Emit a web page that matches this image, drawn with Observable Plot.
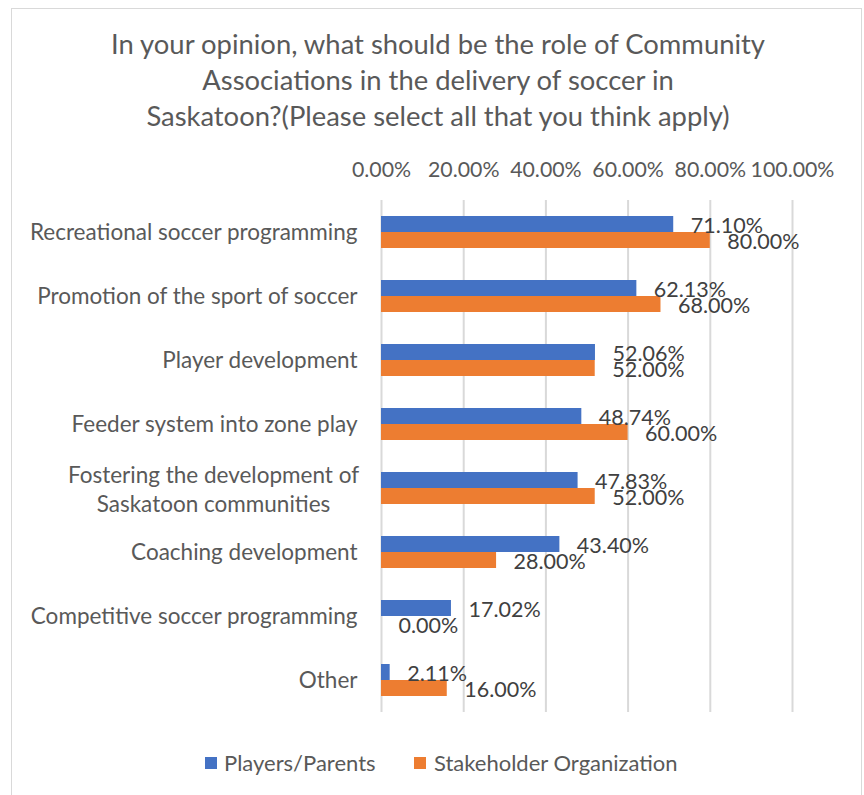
<!DOCTYPE html>
<html>
<head>
<meta charset="utf-8">
<script src="https://cdn.jsdelivr.net/npm/d3@7"></script>
<script src="https://cdn.jsdelivr.net/npm/@observablehq/plot@0.6"></script>
<style>
  html, body { margin: 0; padding: 0; background: #fff; }
  body { width: 864px; height: 795px; position: relative; overflow: hidden; font-family: Lato, "Open Sans", sans-serif; }
  #frame { position: absolute; left: 11px; top: 8px; width: 851px; height: 800px; border: 1px solid #d9d9d9; box-sizing: border-box; }
  #title { position: absolute; left: 12px; top: 26px; width: 852px; text-align: center; font-size: 27.4px; line-height: 36px; color: #595959; }
  #chart { position: absolute; left: 0; top: 140px; }
  .sw { position: absolute; width: 12px; height: 12px; top: 757px; }
  .lt { position: absolute; top: 748px; font-size: 22px; line-height: 30px; color: #595959; }
</style>
</head>
<body>
<div id="frame"></div>
<div id="title">In your opinion, what should be the role of Community<br>Associations in the delivery of soccer in<br>Saskatoon?(Please select all that you think apply)</div>
<div id="chart"></div>
<div class="sw" style="left:205px;background:#4472C4"></div>
<div class="lt" style="left:224px">Players/Parents</div>
<div class="sw" style="left:414px;background:#ED7D31"></div>
<div class="lt" style="left:434px">Stakeholder Organization</div>
<script>
const categories = [
  "Recreational soccer programming",
  "Promotion of the sport of soccer",
  "Player development",
  "Feeder system into zone play",
  "Fostering the development of\nSaskatoon communities",
  "Coaching development",
  "Competitive soccer programming",
  "Other"
];
const playersParents = [0.7110, 0.6213, 0.5206, 0.4874, 0.4783, 0.4340, 0.1702, 0.0211];
const stakeholderOrg = [0.80, 0.68, 0.52, 0.60, 0.52, 0.28, 0.00, 0.16];
const xTicks = [0, 0.2, 0.4, 0.6, 0.8, 1.0];

const rows = categories.map((c, i) => ({category: c, players: playersParents[i], stake: stakeholderOrg[i]}));
const fmt = d3.format(".2%");
const singleLine = categories.filter(c => !c.includes("\n"));
const multiLine = categories.filter(c => c.includes("\n"));

const chart = Plot.plot({
  width: 864,
  height: 590,
  marginLeft: 381,
  marginRight: 72,
  marginTop: 60,
  marginBottom: 18,
  style: {fontFamily: "Lato, 'Open Sans', sans-serif", background: "transparent"},
  x: {domain: [0, 1], axis: null},
  y: {domain: categories, padding: 0, axis: null},
  marks: [
    Plot.ruleX(xTicks, {x: d => d, stroke: "#d9d9d9", strokeWidth: 2}),
    Plot.axisX({anchor: "top", ticks: xTicks, tickFormat: fmt, tickSize: 0, tickPadding: 24, fontSize: 21.3, fill: "#595959", label: null}),
    Plot.barX(rows, {x: "players", y: "category", fill: "#4472C4", insetTop: 24, insetBottom: 24, dy: -8}),
    Plot.barX(rows, {x: "stake", y: "category", fill: "#ED7D31", insetTop: 24, insetBottom: 24, dy: 8}),
    Plot.text(rows, {x: "players", y: "category", text: d => fmt(d.players), textAnchor: "start", dx: 17, dy: -6, fontSize: 21.5, fill: "#404040"}),
    Plot.text(rows, {x: "stake", y: "category", text: d => fmt(d.stake), textAnchor: "start", dx: 17, dy: 10, fontSize: 21.5, fill: "#404040"}),
    Plot.text(singleLine, {y: d => d, text: d => d, frameAnchor: "left", textAnchor: "end", dx: -24, fontSize: 22.5, fill: "#595959"}),
    Plot.text(multiLine, {y: d => d, text: d => d, frameAnchor: "left", textAnchor: "middle", dx: -168, lineHeight: 1.29, fontSize: 22.5, fill: "#595959"})
  ]
});
document.getElementById("chart").appendChild(chart);
</script>
</body>
</html>
